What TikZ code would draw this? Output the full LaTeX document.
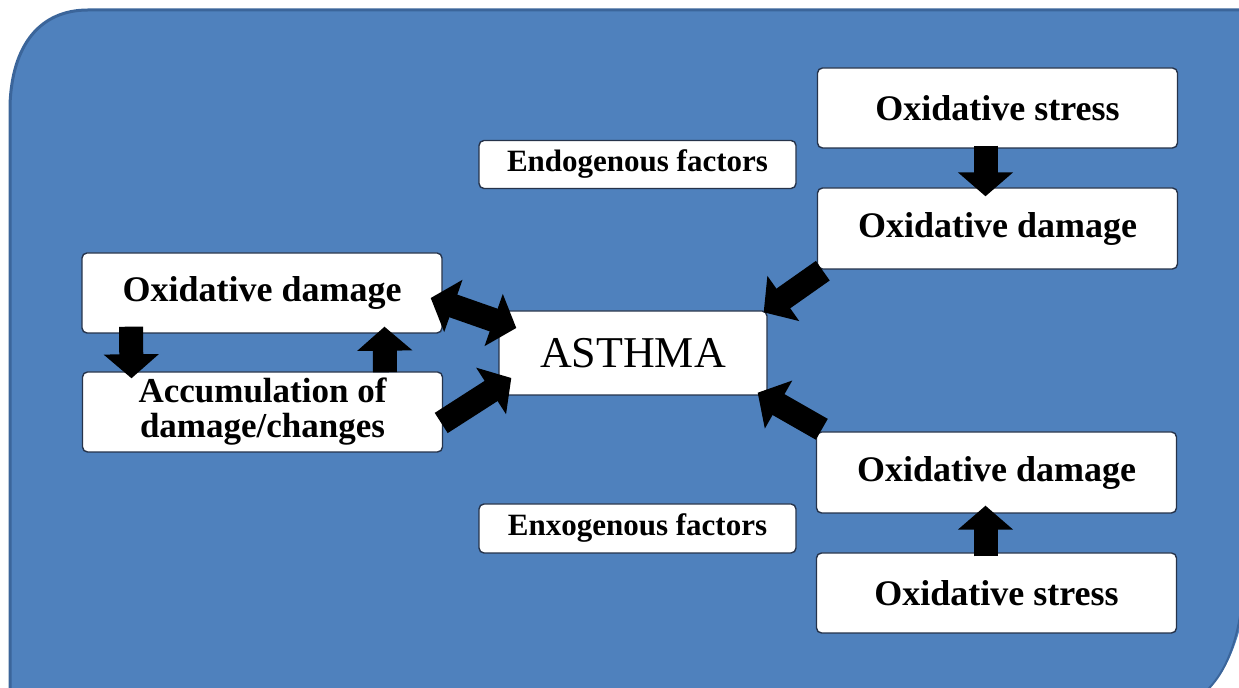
\documentclass[tikz,border=0pt]{standalone}
\usepackage{fontspec}
\setmainfont{Liberation Serif}
\usetikzlibrary{arrows.meta}
\definecolor{bgblue}{HTML}{4F81BD}
\definecolor{bgline}{HTML}{3B659A}
\definecolor{boxline}{HTML}{26334A}
\tikzset{
  box/.style={draw=boxline, fill=white, rounded corners=2.5pt, line width=0.7pt,
    inner sep=0pt, align=center, font=\bfseries\fontsize{18}{18}\selectfont},
  bigbox/.style={box, minimum width=180pt, minimum height=40pt},
  smallbox/.style={box, minimum width=158.5pt, minimum height=24pt,
    font=\bfseries\fontsize{15.5}{17}\selectfont},
  fat/.style={line width=12pt, -{Triangle[width=27pt,length=12pt]}},
  fatboth/.style={line width=12pt, {Triangle[width=27pt,length=12pt]}-{Triangle[width=27pt,length=12pt]}},
}
\begin{document}
\begin{tikzpicture}[x=0.5pt,y=-0.5pt]
\useasboundingbox (0,0) rectangle (1239,688);
% background panel
\fill[bgblue] (10,700) -- (10,105) .. controls (12,45) and (40,10) .. (88,10)
  -- (1250,10) -- (1250,560) .. controls (1245,640) and (1225,680) .. (1195,700) -- cycle;
\draw[bgline, line width=1.5pt] (10,700) -- (10,105) .. controls (12,45) and (40,10) .. (88,10) -- (1250,10);
\draw[bgline, line width=1pt] (1245,560) .. controls (1243,640) and (1225,680) .. (1195,700);

% nodes
\node[bigbox] (os1) at (997.5,108) {Oxidative stress};
\node[bigbox, minimum height=40.5pt] (od1) at (997.5,228.5) {Oxidative damage};
\node[bigbox, minimum height=40.5pt] (od2) at (996.5,472.5) {Oxidative damage};
\node[bigbox] (os2) at (996.5,593) {Oxidative stress};
\node[bigbox] (odl) at (262,293) {Oxidative damage};
\node[bigbox, font=\bfseries\fontsize{17.5}{17.5}\selectfont] (acc) at (262.5,412) {Accumulation of\\damage/changes};
\node[box, minimum width=134pt, minimum height=42pt, font=\fontsize{22}{24}\selectfont] (asthma) at (633,353) {ASTHMA};
\node[smallbox] (endo) at (637.5,164.5) {Endogenous factors};
\node[smallbox, minimum height=24.5pt] (exo) at (637.5,528.5) {Enxogenous factors};

% arrows
\draw[fat] ([xshift=-6pt,yshift=1.5pt]os1.south) -- ([xshift=-6pt,yshift=-4.5pt]od1.north);
\draw[fat] ([xshift=-5.5pt,yshift=-2pt]os2.north) -- ([xshift=-5.5pt,yshift=4pt]od2.south);
\draw[fat] ([xshift=-65.5pt,yshift=3.5pt]odl.south) -- ([xshift=-65.5pt,yshift=-3.5pt]acc.north);
\draw[fat] ([xshift=61.25pt,yshift=-0.5pt]acc.north) -- ([xshift=61.25pt,yshift=3.5pt]odl.south);
\draw[fatboth] ([xshift=-6pt,yshift=-2.5pt]odl.east) -- ([xshift=9pt,yshift=12.5pt]asthma.west);
\draw[fat] ([xshift=-1pt,yshift=-5.5pt]acc.east) -- ([xshift=6.5pt,yshift=-12.5pt]asthma.west);
\draw[fat] ([xshift=3pt,yshift=-0.5pt]od1.south west) -- ([xshift=-2pt,yshift=-1pt]asthma.north east);
\draw[fat] ([xshift=3pt,yshift=1pt]od2.north west) -- ([xshift=-5pt,yshift=1.5pt]asthma.south east);
\end{tikzpicture}
\end{document}
